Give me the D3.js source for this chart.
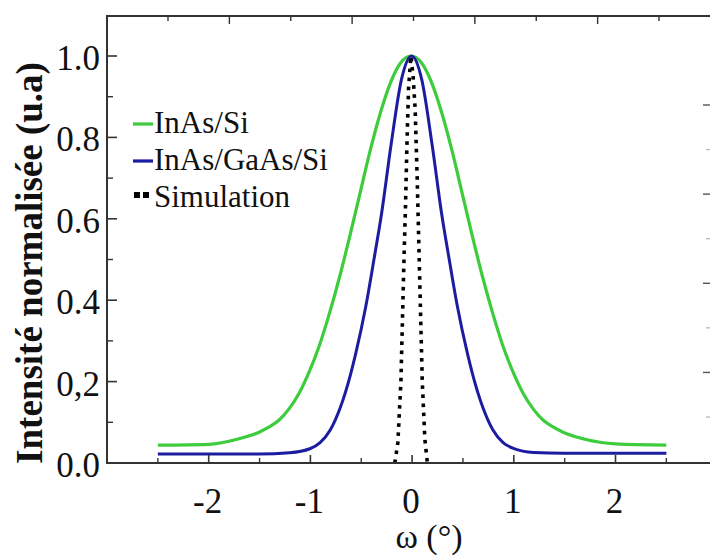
<!DOCTYPE html>
<html><head><meta charset="utf-8"><script src="https://cdn.jsdelivr.net/npm/d3@7"></script></head>
<body style="margin:0">
<svg id="s" width="710" height="555" style="font-family: 'Liberation Serif', Tinos, 'Times New Roman', Times;"></svg>
<script>
// ---- data ----
const seriesNames = ["InAs/Si", "InAs/GaAs/Si", "Simulation"];

const greenX = [-2.5, -2.0, -1.71, -1.51, -1.41, -1.31, -1.21, -1.11, -1.01, -0.91, -0.81, -0.71, -0.61, -0.51, -0.41, -0.31, -0.21, -0.11, -0.01,
                0.09, 0.19, 0.29, 0.39, 0.49, 0.59, 0.69, 0.79, 0.89, 0.99, 1.09, 1.19, 1.29, 1.39, 1.49, 1.69, 2.0, 2.5];
const greenY = [0.044, 0.046, 0.059, 0.075, 0.088, 0.105, 0.133, 0.172, 0.225, 0.29, 0.37, 0.46, 0.56, 0.665, 0.77, 0.862, 0.936, 0.984, 1.0,
                0.984, 0.936, 0.862, 0.77, 0.665, 0.56, 0.46, 0.37, 0.29, 0.225, 0.172, 0.133, 0.105, 0.088, 0.075, 0.059, 0.047, 0.044];

const blueX = [-2.5, -2.0, -1.505, -1.205, -1.005, -0.905, -0.805, -0.705, -0.605, -0.555, -0.455, -0.365, -0.305, -0.205, -0.105, -0.005,
               0.095, 0.195, 0.295, 0.355, 0.445, 0.545, 0.595, 0.695, 0.795, 0.895, 0.995, 1.195, 1.495, 2.0, 2.5];
const blueY = [0.022, 0.022, 0.022, 0.025, 0.035, 0.05, 0.081, 0.137, 0.218, 0.268, 0.385, 0.515, 0.605, 0.785, 0.942, 1.0,
               0.942, 0.785, 0.605, 0.515, 0.385, 0.268, 0.218, 0.137, 0.081, 0.05, 0.036, 0.026, 0.024, 0.024, 0.024];

const simX = [-0.17, -0.14, -0.11, -0.095, -0.08, -0.065, -0.05, -0.035, -0.012, 0.01, 0.03, 0.05, 0.065, 0.08, 0.1, 0.125, 0.15];
const simY = [0.0, 0.05, 0.2, 0.35, 0.5, 0.63, 0.79, 0.92, 1.0, 0.95, 0.87, 0.70, 0.55, 0.40, 0.2, 0.06, 0.0];

const xMajorTicks = [-2, -1, 0, 1, 2];
const xMinorTicks = [-2.5, -1.5, -0.5, 0.5, 1.5, 2.5];
const yMajorTicks = [0, 0.2, 0.4, 0.6, 0.8, 1.0];
const yTickLabels = ["0.0", "0,2", "0.4", "0.6", "0.8", "1.0"];
const yMinorTicks = [0.1, 0.3, 0.5, 0.7, 0.9];
// ticks of the neighbouring (cropped) panel frame
const topTicks = [0, 1, 2, 3, 4, 5, 6, 7, 8];
const rightTicks = [0, 1, 2, 3, 4, 5, 6, 7];

// ---- layout ----
const svg = d3.select("#s");
const plotLeft = 107, plotBottom = 463, plotTop = 15.3;
const x = d3.scaleLinear().domain([-3, 3]).range([plotLeft, 717.2]);
const y = d3.scaleLinear().domain([0, 1.1]).range([plotBottom, plotTop]);
const xTop = d3.scaleLinear().domain([0, 8]).range([168, 659]);
const yRight = d3.scaleLinear().domain([0, 7]).range([105, 417]);

const axisColor = "#333";
const fontOf = () => "\"Liberation Serif\"";
function serifText(sel) {
  return sel.attr("font-family", "Liberation Serif").style("font-family", fontOf);
}

// curves
const line = d3.line().x(d => x(d[0])).y(d => y(d[1])).curve(d3.curveMonotoneX);
const linLine = d3.line().x(d => x(d[0])).y(d => y(d[1]));

svg.append("path")
  .attr("d", line(greenX.map((v, i) => [v, greenY[i]])))
  .attr("fill", "none").attr("stroke", "#3ccc3c").attr("stroke-width", 3.2);

svg.append("path")
  .attr("d", line(blueX.map((v, i) => [v, blueY[i]])))
  .attr("fill", "none").attr("stroke", "#1c1ca0").attr("stroke-width", 3);

svg.append("path")
  .attr("d", linLine(simX.map((v, i) => [v, simY[i]])))
  .attr("fill", "none").attr("stroke", "#000").attr("stroke-width", 3.6)
  .attr("stroke-dasharray", "3.6,5.5");

// axes: bottom
const gx = svg.append("g").attr("transform", `translate(0,${plotBottom})`);
gx.append("line").attr("x1", plotLeft).attr("x2", 717).attr("stroke", axisColor).attr("stroke-width", 2);
gx.selectAll(".xmaj").data(xMajorTicks).join("line").attr("class", "xmaj")
  .attr("x1", d => x(d)).attr("x2", d => x(d)).attr("y1", 0).attr("y2", -8)
  .attr("stroke", axisColor).attr("stroke-width", 1.6);
gx.selectAll(".xmin").data(xMinorTicks).join("line").attr("class", "xmin")
  .attr("x1", d => x(d)).attr("x2", d => x(d)).attr("y1", 0).attr("y2", -5)
  .attr("stroke", axisColor).attr("stroke-width", 1.4);
gx.selectAll("text").data(xMajorTicks).join("text")
  .attr("x", d => x(d) - 1).attr("y", 50)
  .attr("text-anchor", "middle")
  .call(serifText).style("font-size", "35px")
  .attr("fill", "#111").text(d => d);

// top frame line
const gt = svg.append("g").attr("transform", `translate(0,16)`);
gt.append("line").attr("x1", plotLeft).attr("x2", 710).attr("stroke", axisColor).attr("stroke-width", 2);
gt.selectAll("line.t").data(topTicks).join("line").attr("class", "t")
  .attr("x1", d => xTop(d)).attr("x2", d => xTop(d)).attr("y1", 0).attr("y2", d => d % 2 ? 8 : 5)
  .attr("stroke", axisColor).attr("stroke-width", 1.4);

// right edge ticks
svg.selectAll("line.r").data(rightTicks).join("line").attr("class", "r")
  .attr("x1", d => d % 2 ? 706 : 703).attr("x2", 710)
  .attr("y1", d => yRight(d)).attr("y2", d => yRight(d))
  .attr("stroke", d => d % 2 ? "#bbb" : "#555").attr("stroke-width", 1.4);

// left axis
const gy = svg.append("g").attr("transform", `translate(${plotLeft},0)`);
gy.append("line").attr("y1", 15).attr("y2", plotBottom + 1).attr("stroke", axisColor).attr("stroke-width", 2);
gy.selectAll(".ymaj").data(yMajorTicks).join("line").attr("class", "ymaj")
  .attr("y1", d => y(d)).attr("y2", d => y(d)).attr("x1", 0).attr("x2", 10)
  .attr("stroke", axisColor).attr("stroke-width", 1.6);
gy.selectAll(".ymin").data(yMinorTicks).join("line").attr("class", "ymin")
  .attr("y1", d => y(d)).attr("y2", d => y(d)).attr("x1", 0).attr("x2", 6)
  .attr("stroke", axisColor).attr("stroke-width", 1.4);
gy.selectAll("text").data(yMajorTicks).join("text")
  .attr("x", -7).attr("y", d => y(d) + 14)
  .attr("text-anchor", "end")
  .call(serifText).style("font-size", "35px")
  .attr("fill", "#111").text((d, i) => yTickLabels[i]);

// axis titles
svg.append("text")
  .attr("x", 429).attr("y", 548)
  .attr("text-anchor", "middle")
  .call(serifText).style("font-size", "34px")
  .attr("fill", "#111").text("ω (°)");

svg.append("text")
  .attr("transform", "translate(42,263) rotate(-90)")
  .attr("text-anchor", "middle")
  .call(serifText).style("font-size", "37px").style("font-weight", "bold")
  .attr("fill", "#111").text("Intensité normalisée (u.a)");

// legend
const legColors = ["#3ccc3c", "#1c1ca0"];
const legBase = [133, 170, 207];
const lg = svg.append("g");
legColors.forEach((c, i) => {
  lg.append("line").attr("x1", 133).attr("x2", 153)
    .attr("y1", legBase[i] - 9).attr("y2", legBase[i] - 9)
    .attr("stroke", c).attr("stroke-width", 3.2);
});
[134, 143].forEach(px => {
  lg.append("rect").attr("x", px).attr("y", legBase[2] - 15).attr("width", 6).attr("height", 6).attr("fill", "#000");
});
lg.selectAll("text").data(seriesNames).join("text")
  .attr("x", 154).attr("y", (d, i) => legBase[i])
  .call(serifText).style("font-size", "31px")
  .attr("fill", "#111").text(d => d);
</script>
</body></html>
